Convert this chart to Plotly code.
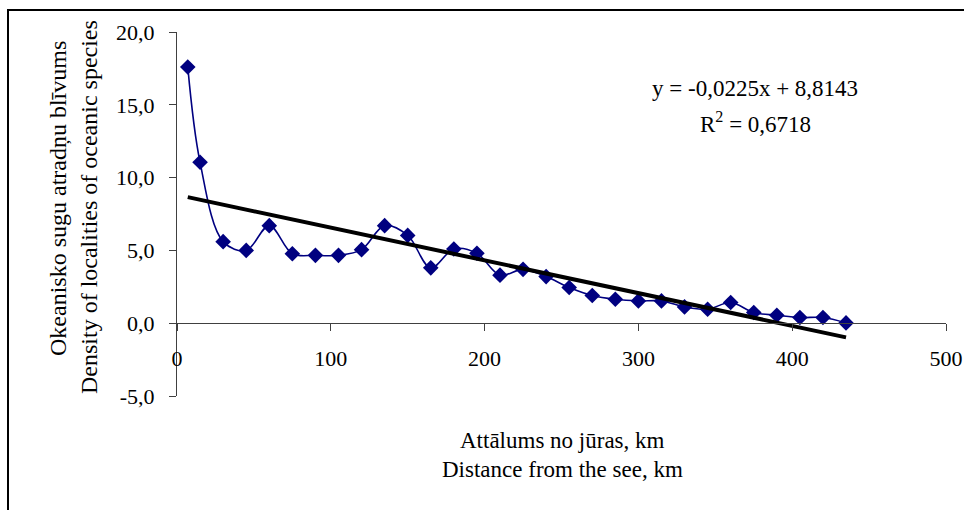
import plotly.graph_objects as go

# ---- data ----
distance_km = [7, 15, 30, 45, 60, 75, 90, 105, 120, 135, 150, 165, 180, 195, 210,
               225, 240, 255, 270, 285, 300, 315, 330, 345, 360, 375, 390, 405, 420, 435]
density = [17.6, 11.05, 5.6, 5.0, 6.7, 4.77, 4.66, 4.66, 5.05, 6.7, 6.03, 3.8, 5.1, 4.8, 3.3,
           3.7, 3.2, 2.45, 1.9, 1.64, 1.53, 1.53, 1.12, 0.96, 1.42, 0.73, 0.55, 0.39, 0.39, 0.02]
trend_slope = -0.0225
trend_intercept = 8.8143
x_ticks = [0, 100, 200, 300, 400, 500]
y_ticks = [-5, 0, 5, 10, 15, 20]
y_ticklabels = ["-5,0", "0,0", "5,0", "10,0", "15,0", "20,0"]
eq_text = "y = -0,0225x + 8,8143"
r2_text = "R<sup>2</sup> = 0,6718"
x_title = ["Attālums no jūras, km", "Distance from the see, km"]
y_title = ["Okeanisko sugu atradņu blīvums", "Density of localities of oceanic species"]

FONT = "Liberation Serif, Times New Roman, serif"
W, H = 964, 510
L, R, T, B = 177, 18, 32, 114
PW, PH = W - L - R, H - T - B


def px(xp):
    return (xp - L) / PW


def py(yp):
    return (H - B - yp) / PH


trend_x = [min(distance_km), max(distance_km)]
trend_y = [trend_slope * v + trend_intercept for v in trend_x]

fig = go.Figure()
fig.add_trace(go.Scatter(
    x=distance_km, y=density, mode="lines+markers",
    line=dict(color="#000080", width=1.6, shape="spline", smoothing=1.0),
    marker=dict(symbol="diamond", size=12, color="#000080"),
    showlegend=False, cliponaxis=False))
fig.add_trace(go.Scatter(
    x=trend_x, y=trend_y, mode="lines",
    line=dict(color="black", width=4), showlegend=False, cliponaxis=False))

ymin, ymax = -5, 20
fig.update_layout(
    width=W, height=H,
    margin=dict(l=L, r=R, t=T, b=B, autoexpand=False),
    paper_bgcolor="white", plot_bgcolor="white",
    font=dict(family=FONT, size=22, color="black"),
    xaxis=dict(range=[0, 500], tickvals=x_ticks, ticktext=[str(v) for v in x_ticks],
               showgrid=False, zeroline=False, showline=True, linecolor="#404040", linewidth=1,
               ticks="outside", ticklen=7, tickcolor="#404040",
               anchor="free", position=(0 - ymin) / (ymax - ymin),
               ticklabelstandoff=8, automargin=False,
               tickfont=dict(family=FONT, size=22)),
    yaxis=dict(range=[ymin, ymax], tickvals=y_ticks, ticktext=y_ticklabels,
               showgrid=False, zeroline=False, showline=True, linecolor="#404040", linewidth=1,
               ticks="outside", ticklen=7, tickcolor="#404040",
               ticklabelstandoff=10, automargin=False,
               tickfont=dict(family=FONT, size=22)),
)

# chart border (top and left visible)
fig.add_shape(type="rect", xref="paper", yref="paper",
              x0=px(8), x1=px(975), y0=py(530), y1=py(10),
              line=dict(color="black", width=2), fillcolor="rgba(0,0,0,0)", layer="below")

ann = []
ann.append(dict(text=eq_text, x=px(755), y=py(88), size=23))
ann.append(dict(text=r2_text, x=px(755), y=py(122), size=23))
ann.append(dict(text=x_title[0], x=px(562), y=py(440), size=23))
ann.append(dict(text=x_title[1], x=px(562), y=py(469), size=23))
for a in ann:
    fig.add_annotation(xref="paper", yref="paper", x=a["x"], y=a["y"], text=a["text"],
                       showarrow=False, xanchor="center", yanchor="middle",
                       font=dict(family=FONT, size=a["size"], color="black"))
fig.add_annotation(xref="paper", yref="paper", x=px(58), y=py(199), text=y_title[0],
                   showarrow=False, textangle=-90, xanchor="center", yanchor="middle",
                   font=dict(family=FONT, size=24, color="black"))
fig.add_annotation(xref="paper", yref="paper", x=px(89), y=py(207), text=y_title[1],
                   showarrow=False, textangle=-90, xanchor="center", yanchor="middle",
                   font=dict(family=FONT, size=24, color="black"))

fig.write_html("out.html")
